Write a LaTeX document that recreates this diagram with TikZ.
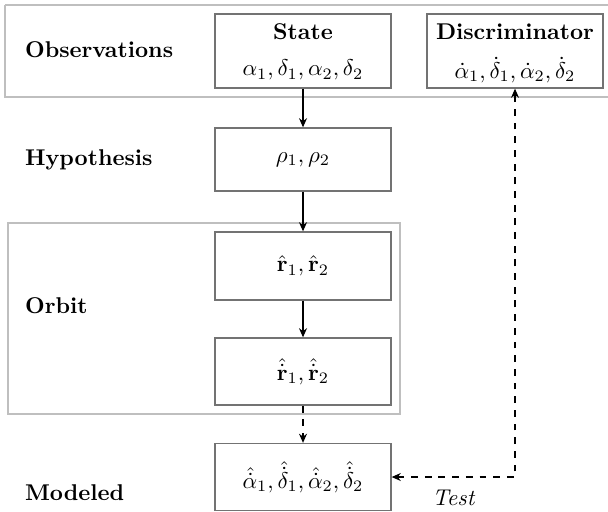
\documentclass[tikz,border=0pt]{standalone}
\usepackage{amsmath,amssymb}
\usetikzlibrary{arrows.meta}
\begin{document}
\begin{tikzpicture}[x=0.4386pt,y=-0.4386pt,
  box/.style={draw=black!55,line width=0.6pt,minimum width=176*0.4386pt,align=center,inner sep=0pt},
  group/.style={draw=black!25,line width=0.6pt},
  lbl/.style={anchor=west,font=\bfseries},
  arr/.style={-{Stealth[length=4pt,width=3.5pt]},line width=0.5pt},
  darr/.style={{Stealth[length=4pt,width=3.5pt]}-{Stealth[length=4pt,width=3.5pt]},dashed,line width=0.5pt}]
\useasboundingbox (0,0) rectangle (608,511);
\draw[group] (5,5) -- (620,5) (5,5) -- (5,97) -- (620,97);
\draw[group] (8,223) rectangle (400,414);
\node[lbl] (lobs) at (17,50) {Observations};
\node[lbl] (lhyp) at (17,160) {Hypothesis};
\node[lbl] (lorb) at (17,306) {Orbit};
\node[lbl] (lmod) at (17,493) {Modeled};
\node[box,minimum height=74*0.4386pt] (state) at (303,51) {};
\node (statet) at (303,32) {\bfseries State};
\node (statem) at (303,70) {$\alpha_1,\delta_1,\alpha_2,\delta_2$};
\node[box,minimum height=74*0.4386pt] (disc) at (515,51) {};
\node (disct) at (515,32) {\bfseries Discriminator};
\node (discm) at (515,70) {$\dot\alpha_1,\dot\delta_1,\dot\alpha_2,\dot\delta_2$};
\node[box,minimum height=63*0.4386pt] (hyp) at (303,159.5) {$\rho_1,\rho_2$};
\node[box,minimum height=68*0.4386pt] (r) at (303,266) {$\hat{\mathbf{r}}_1,\hat{\mathbf{r}}_2$};
\node[box,minimum height=67*0.4386pt] (rd) at (303,371.5) {$\hat{\dot{\mathbf{r}}}_1,\hat{\dot{\mathbf{r}}}_2$};
\node[box,minimum height=67*0.4386pt] (mod) at (303,477) {$\hat{\dot\alpha}_1,\hat{\dot\delta}_1,\hat{\dot\alpha}_2,\hat{\dot\delta}_2$};
\draw[arr] (state) -- (hyp);
\draw[arr] (hyp) -- (r);
\draw[arr] (r) -- (rd);
\draw[arr,dashed] (rd) -- (mod);
\draw[darr] (mod.east) -| node[pos=0.25,below=2pt] (test) {\itshape Test} (disc.south);
\end{tikzpicture}
\end{document}
